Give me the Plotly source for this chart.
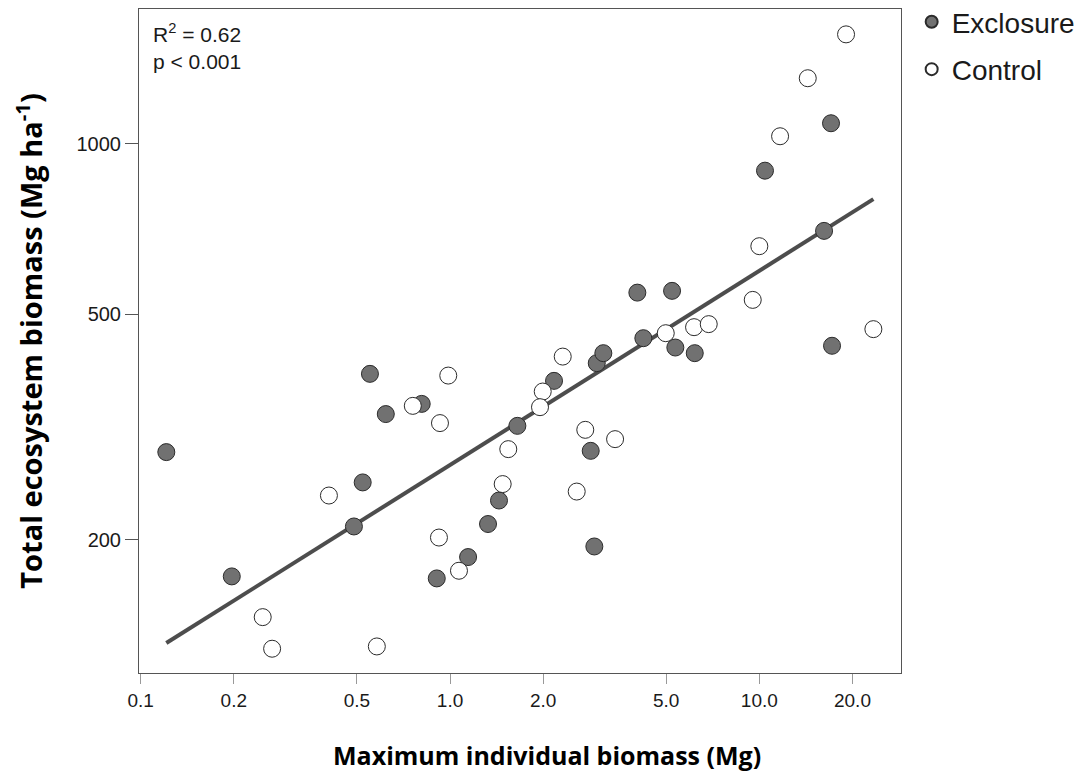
import plotly.graph_objects as go

# Exclosure plots (filled markers)
excl_x = [0.121, 0.551, 0.620, 0.522, 0.489, 0.197, 0.810, 1.651, 2.169, 2.981,
          3.131, 4.217, 5.351, 6.183, 4.033, 5.222, 2.850, 2.928, 1.440, 1.327,
          1.144, 0.906, 10.43, 17.05, 16.19, 17.18]
excl_y = [285.6, 392.6, 333.4, 252.5, 211.1, 172.3, 347.5, 317.8, 381.6, 410.1,
          427.1, 453.9, 437.0, 427.1, 546.3, 550.2, 287.1, 194.6, 234.6, 213.2,
          186.4, 170.9, 897.0, 1087.8, 702.2, 440.1]

# Control plots (open markers)
ctrl_x = [0.406, 0.248, 0.266, 0.580, 0.758, 0.987, 0.928, 1.543, 1.480, 0.921,
          1.069, 1.994, 1.954, 2.314, 2.737, 3.417, 2.568, 4.983, 6.151, 6.862,
          9.521, 10.0, 11.67, 14.34, 19.07, 23.37]
ctrl_y = [239.4, 146.0, 128.4, 129.6, 344.7, 389.9, 321.4, 289.1, 250.8, 201.8,
          176.3, 365.4, 342.9, 421.2, 312.7, 301.1, 243.3, 463.2, 474.7, 480.6,
          530.4, 659.8, 1031.8, 1306.3, 1561.4, 470.9]

# fitted regression line (log-log)
fit_x = [0.121, 23.37]
fit_y = [131.4, 798.9]

x_ticks = [0.1, 0.2, 0.5, 1, 2, 5, 10, 20]
x_labels = ["0.1", "0.2", "0.5", "1.0", "2.0", "5.0", "10.0", "20.0"]
y_ticks = [200, 500, 1000]
y_labels = ["200", "500", "1000"]

fig = go.Figure()

fig.add_trace(go.Scatter(
    x=fit_x, y=fit_y, mode="lines", showlegend=False,
    line=dict(color="#4d4d4d", width=4),
))
fig.add_trace(go.Scatter(
    x=excl_x, y=excl_y, mode="markers", name="Exclosure", legendgroup="a",
    marker=dict(size=17, color="#717171", line=dict(color="#2b2b2b", width=1)),
))
fig.add_trace(go.Scatter(
    x=ctrl_x, y=ctrl_y, mode="markers", name="Control", legendgroup="b",
    marker=dict(size=17, color="white", line=dict(color="#2b2b2b", width=1)),
))

sans = "Liberation Sans, Arial"
bold = "Open Sans, Liberation Sans"

fig.update_xaxes(
    type="log", range=[-1.0055, 1.458],
    tickvals=x_ticks, ticktext=x_labels,
    tickfont=dict(family=sans, size=19, color="#1a1a1a"),
    ticks="outside", ticklen=10, tickcolor="#999999", tickwidth=1,
    showline=True, linecolor="#555555", linewidth=1, mirror=True,
    showgrid=False, zeroline=False,
)
fig.update_yaxes(
    type="log", range=[2.0657, 3.2383],
    tickvals=y_ticks, ticktext=y_labels,
    tickfont=dict(family=sans, size=20, color="#1a1a1a"),
    ticks="outside", ticklen=13, tickcolor="#555555", tickwidth=1,
    showline=True, linecolor="#555555", linewidth=1, mirror=True,
    showgrid=False, zeroline=False,
    title=dict(text="<b>Total ecosystem biomass (Mg ha<sup>-1</sup>)</b>",
               font=dict(family=bold, size=29, color="black"), standoff=34),
)

# x-axis title sits a little right of the plot centre in the original
fig.add_annotation(
    xref="paper", yref="paper", x=0.535, y=-0.124, xanchor="center", yanchor="middle",
    text="<b>Maximum individual biomass (Mg)</b>", showarrow=False,
    font=dict(family=bold, size=25, color="black"),
)

fig.add_annotation(
    xref="paper", yref="paper", x=0.016, y=0.987, xanchor="left", yanchor="top",
    text="R<sup>2</sup> = 0.62<br>p < 0.001", showarrow=False, align="left",
    font=dict(family=sans, size=21, color="#1a1a1a"),
)

# page body adds an 8px offset, margins are set against it
fig.update_layout(
    width=1088, height=774,
    margin=dict(l=131, r=195, t=1, b=109, autoexpand=False),
    plot_bgcolor="white", paper_bgcolor="white",
    legend=dict(
        x=1.014, y=1.018, xanchor="left", yanchor="top",
        font=dict(family=sans, size=28, color="#1a1a1a"),
        tracegroupgap=8, itemsizing="constant",
    ),
)

fig.write_html("out.html")
